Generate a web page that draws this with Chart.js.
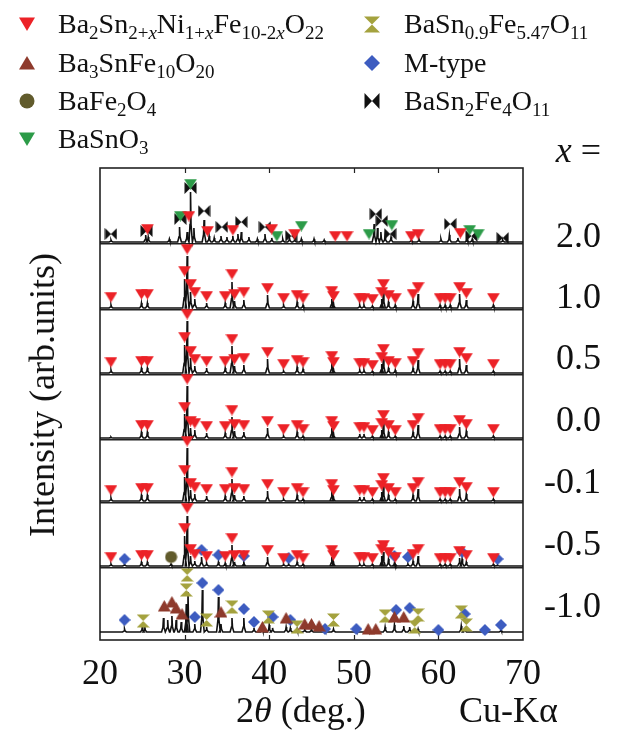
<!DOCTYPE html>
<html>
<head>
<meta charset="utf-8">
<script src="https://cdn.jsdelivr.net/npm/chart.js@4.4.1/dist/chart.umd.min.js"></script>
<style>
body { margin: 0; background: #fff; }
#wrap { position: relative; width: 617px; height: 751px; font-family: "Liberation Serif", "Times New Roman", serif; color: #111; }
#xrd { position: absolute; left: 0; top: 0; }
.lbl { position: absolute; white-space: nowrap; line-height: 1; }
.big { font-size: 36px; }
.leg { position: absolute; font-size: 28px; white-space: nowrap; line-height: 1; transform: translateY(-50%); }
.leg sub { font-size: 19px; line-height: 0; vertical-align: -6px; }
.ico { position: absolute; }
</style>
</head>
<body>
<div id="wrap">
<canvas id="xrd" width="617" height="751"></canvas>
<div class="lbl big" style="left:42px; top:395px; transform:translate(-50%,-50%) rotate(-90deg);">Intensity (arb.units)</div>
<div class="lbl big" style="left:236px; top:710px; transform:translateY(-50%);">2<i>θ</i> (deg.)</div>
<div class="lbl big" style="left:459px; top:710px; transform:translateY(-50%);">Cu-Kα</div>
<div class="lbl big" style="right:16px; top:150px; transform:translateY(-50%);"><i>x</i> =</div>
</div>
<script>
// x axis
var xTicks = [20, 30, 40, 50, 60, 70];

// panels, top to bottom
var panelLabels = ['2.0', '1.0', '0.5', '0.0', '-0.1', '-0.5', '-1.0'];
var labelY = [235, 296, 357, 419, 481, 543, 605];
var offsets = [398, 332, 267, 202, 139, 74, 8];
var separators = [72, 137, 200, 265, 330, 396];

// Ba2Sn2+xNi1+xFe10-2xO22 reflections (2theta) used in x = 1.0 ... -0.5
var mainPos = [21.3,24.9,25.6,30.0,30.3,30.7,31.2,32.6,34.8,35.6,35.9,37.0,39.8,41.7,43.3,44.0,47.4,47.6,50.7,51.2,52.2,53.3,53.5,54.1,54.9,57.0,57.6,60.2,60.8,61.4,62.5,63.3,66.5];
// peak heights
var peaks10 = [3,5,5,29,52,16,9,5,5,26,7,8,13,3,6,3,9,5,3,3,2,9,17,6,3,7,14,3,3,3,14,8,3];
var peaks05 = [3,5,5,28,52,15,7,5,5,27,7,8,14,2,6,4,10,4,3,3,2,9,17,5,3,5,13,2,2,2,14,8,2];
var peaks00 = [1,6,6,24,52,10,8,5,5,21,7,6,10,2,6,2,10,5,4,4,2,8,16,6,2,6,13,2,2,2,11,7,2];
var peaksM01 = [3,6,6,24,53,11,7,5,5,22,6,5,10,2,6,2,10,4,4,4,2,9,16,6,2,6,12,2,2,2,12,7,2];
var peaksM05 = [2,4,4,30,50,10,5,3,3,21,4,4,9,2,4,2,9,4,2,2,2,10,14,7,2,5,10,2,2,2,8,4,2];
// marker heights
var marks10 = [11,14,14,37,59,24,16,12,12,34,14,16,20,10,13,10,17,12,10,10,9,16,24,13,10,14,21,10,10,10,21,15,10];
var marks05 = [11,12,12,36,59,22,14,12,12,34,14,15,21,9,13,11,17,11,10,10,8,16,24,12,10,12,20,9,9,9,21,15,9];
var marks00 = [null,13,13,31,59,17,15,12,12,28,14,13,17,9,13,9,17,12,11,11,8,15,23,13,8,13,20,9,9,9,18,14,9];
var marksM01 = [11,13,13,31,60,18,14,12,12,29,13,12,17,9,13,9,17,11,11,11,9,16,23,13,9,13,19,9,9,9,19,14,9];
var marksM05 = [9,11,11,38,58,17,12,10,10,28,11,11,16,8,11,8,16,11,9,9,8,17,21,14,9,12,17,8,8,8,15,11,8];

// x = -0.5, other phases
var mtypeM05Peaks = [[22.9,2],[32.0,9],[34.0,4],[37.0,3],[42.3,2],[54.8,3],[56.4,2],[62.8,7],[67.0,1],[28.4,2]];
var mtypeM05Marks = [[22.9,7],[32.0,16],[34.0,11],[37.0,10],[42.3,8],[54.8,10],[56.4,9],[62.8,14],[67.0,7]];
var bafe2o4M05Marks = [[28.4,9]];

// x = 2.0
var peaks20 = [[21.3,2],[25.4,7],[25.7,5],[28.2,3],[29.4,15],[30.3,10],[30.7,50],[31.1,14],[32.3,22],[32.9,6],[33.5,4],[34.3,6],[35.0,5],[35.7,6],[36.3,8],[36.7,10],[37.6,5],[38.6,3],[39.5,8],[40.3,4],[41.6,3],[42.4,4],[43.0,3],[43.8,3],[45.3,3],[46.5,2],[52.4,18],[52.8,14],[53.2,10],[53.7,6],[54.4,5],[56.8,2],[57.7,3],[60.3,3],[61.3,7],[62.3,4],[63.4,3],[64.0,3],[67.6,2]];
var bowtie20 = [[21.3,8],[25.5,11],[29.5,23],[30.7,54],[32.3,31],[34.4,15],[36.7,20],[39.5,15],[42.6,6],[52.6,28],[53.3,21],[54.3,8],[61.4,18],[63.9,6],[67.6,4]];
var green20 = [[29.5,26],[30.7,58],[40.9,6],[43.8,16],[51.8,8],[54.5,17],[63.7,12],[64.7,8]];
var red20 = [[25.6,13],[30.5,26],[32.7,11],[35.7,12],[40.3,13],[43.0,8],[47.8,6],[49.2,6],[56.8,6],[57.6,8],[62.6,9]];

// x = -1.0
var peaksM10 = [[22.9,3],[25.0,5],[25.3,5],[27.5,14],[28.0,12],[28.5,16],[29.0,12],[29.6,10],[30.2,28],[30.4,40],[31.2,8],[32.1,42],[32.6,5],[34.0,35],[34.3,8],[35.6,14],[37.0,14],[38.2,4],[39.2,3],[40.0,7],[40.4,4],[42.0,5],[42.5,4],[43.3,3],[44.2,3],[45.0,3],[46.6,2],[47.6,3],[50.3,2],[51.7,2],[53.7,5],[54.8,7],[55.9,6],[56.6,5],[57.6,3],[60.0,2],[62.7,6],[63.1,4],[65.5,2],[67.4,2]];
var mtypeM10 = [[22.9,12],[31.2,15],[32.1,49],[34.0,42],[37.0,23],[38.2,10],[40.4,15],[42.5,12],[46.6,3],[50.3,3],[55.0,22],[56.6,24],[60.0,2],[63.1,18],[65.5,2],[67.4,7]];
var hourglassM10 = [[25.1,11],[30.3,57],[30.2,42],[32.6,12],[35.6,25],[39.9,15],[43.3,5],[47.6,12],[53.7,16],[57.2,5],[57.6,17],[62.7,20],[63.3,7]];
var brownM10 = [[27.6,26],[28.5,30],[29.0,24],[29.7,18],[34.3,20],[39.2,5],[42.0,14],[44.2,8],[45.0,8],[45.9,6],[51.7,3],[52.6,3],[54.8,15],[55.9,15]];

var colors = {
  red: '#ec2227', brown: '#8e3a2c', darkOlive: '#615b2c', green: '#2c9b48',
  olive: '#a4a23e', blue: '#3d5cc0', black: '#111111'
};

function markerImage(kind, color, w, h) {
  var c = document.createElement('canvas');
  c.width = w; c.height = h;
  var g = c.getContext('2d');
  g.fillStyle = color;
  g.beginPath();
  if (kind == 'down') { g.moveTo(0, 0.5); g.lineTo(w, 0.5); g.lineTo(w / 2, h); }
  else if (kind == 'up') { g.moveTo(w / 2, 0); g.lineTo(w, h - 0.5); g.lineTo(0, h - 0.5); }
  else if (kind == 'circle') { g.arc(w / 2, h / 2, w / 2 - 0.5, 0, 2 * Math.PI); }
  else if (kind == 'diamond') { g.moveTo(w / 2, 0); g.lineTo(w, h / 2); g.lineTo(w / 2, h); g.lineTo(0, h / 2); }
  else if (kind == 'hourglass') { g.moveTo(0, 0.5); g.lineTo(w, 0.5); g.lineTo(0, h - 0.5); g.lineTo(w, h - 0.5); }
  else if (kind == 'bowtie') { g.moveTo(0.5, 0); g.lineTo(0.5, h); g.lineTo(w - 0.5, 0); g.lineTo(w - 0.5, h); }
  g.closePath();
  g.fill();
  return c;
}

var img = {
  red: markerImage('down', colors.red, 13, 11),
  brown: markerImage('up', colors.brown, 13, 12),
  circle: markerImage('circle', colors.darkOlive, 13, 13),
  green: markerImage('down', colors.green, 13, 11),
  hourglass: markerImage('hourglass', colors.olive, 13, 14),
  diamond: markerImage('diamond', colors.blue, 12, 12),
  bowtie: markerImage('bowtie', colors.black, 13, 12)
};

function trace(peaks, base) {
  var sorted = peaks.slice().sort(function(a, b){ return a[0] - b[0]; });
  var pts = [{x: 20, y: base}];
  for (var i = 0; i < sorted.length; i++) {
    pts.push({x: sorted[i][0] - 0.22, y: base});
    pts.push({x: sorted[i][0] - 0.06, y: base + sorted[i][1] * 0.35});
    pts.push({x: sorted[i][0], y: base + sorted[i][1]});
    pts.push({x: sorted[i][0] + 0.06, y: base + sorted[i][1] * 0.35});
    pts.push({x: sorted[i][0] + 0.22, y: base});
  }
  pts.push({x: 70, y: base});
  return pts;
}

function pairs(pos, vals) {
  var out = [];
  for (var i = 0; i < pos.length; i++) {
    if (vals[i] != null) out.push([pos[i], vals[i]]);
  }
  return out;
}

function marks(list, base, image) {
  return {
    type: 'scatter',
    data: list.map(function(m){ return {x: m[0], y: base + m[1]}; }),
    pointStyle: image,
    pointRadius: 6,
    clip: false,
    order: 0
  };
}

function line(peaks, base) {
  return {
    type: 'scatter',
    showLine: true,
    data: trace(peaks, base),
    borderColor: '#111',
    borderWidth: 1.6,
    pointRadius: 0,
    order: 1
  };
}

var datasets = [];
// 2.0
datasets.push(line(peaks20, offsets[0]));
datasets.push(marks(red20, offsets[0], img.red));
datasets.push(marks(green20, offsets[0], img.green));
datasets.push(marks(bowtie20, offsets[0], img.bowtie));
// 1.0 .. -0.1
var midPeaks = [peaks10, peaks05, peaks00, peaksM01];
var midMarks = [marks10, marks05, marks00, marksM01];
for (var p = 0; p < 4; p++) {
  datasets.push(line(pairs(mainPos, midPeaks[p]), offsets[p + 1]));
  datasets.push(marks(pairs(mainPos, midMarks[p]), offsets[p + 1], img.red));
}
// -0.5
datasets.push(line(pairs(mainPos, peaksM05).concat(mtypeM05Peaks), offsets[5]));
datasets.push(marks(pairs(mainPos, marksM05), offsets[5], img.red));
datasets.push(marks(mtypeM05Marks, offsets[5], img.diamond));
datasets.push(marks(bafe2o4M05Marks, offsets[5], img.circle));
// -1.0
datasets.push(line(peaksM10, offsets[6]));
datasets.push(marks(brownM10, offsets[6], img.brown));
datasets.push(marks(hourglassM10, offsets[6], img.hourglass));
datasets.push(marks(mtypeM10, offsets[6], img.diamond));

var framePlugin = {
  id: 'frame',
  beforeDatasetsDraw: function(chart) {
    var a = chart.chartArea, ctx = chart.ctx, xs = chart.scales.x;
    ctx.save();
    ctx.strokeStyle = '#222';
    ctx.lineWidth = 1.6;
    ctx.strokeRect(a.left, a.top, a.right - a.left, a.bottom - a.top);
    ctx.beginPath();
    for (var i = 1; i < xTicks.length - 1; i++) {
      var px = Math.round(xs.getPixelForValue(xTicks[i])) + 0.5;
      ctx.moveTo(px, a.top); ctx.lineTo(px, a.top + 5);
      ctx.moveTo(px, a.bottom); ctx.lineTo(px, a.bottom - 5);
    }
    ctx.lineWidth = 1.2;
    ctx.stroke();
    ctx.restore();
  }
};

new Chart(document.getElementById('xrd'), {
  type: 'scatter',
  data: { datasets: datasets },
  options: {
    responsive: false,
    animation: false,
    events: [],
    layout: { padding: { left: 0, right: 94, top: 168, bottom: 0 } },
    plugins: { legend: { display: false }, tooltip: { enabled: false } },
    scales: {
      x: {
        type: 'linear', min: 20, max: 70,
        afterBuildTicks: function(s){ s.ticks = xTicks.map(function(v){ return {value: v}; }); },
        afterFit: function(s){ s.height = 111; },
        ticks: { font: { family: 'Liberation Serif', size: 36 }, color: '#111', padding: 5, maxRotation: 0 },
        grid: { display: false },
        border: { display: false }
      },
      y: {
        type: 'linear', min: 0, max: 472,
        afterBuildTicks: function(s){ s.ticks = separators.map(function(v){ return {value: v}; }); },
        afterFit: function(s){ s.width = 100; },
        ticks: { display: false },
        grid: { color: '#222', lineWidth: 1.5, drawTicks: false },
        border: { display: false }
      }
    }
  },
  plugins: [framePlugin]
});

// panel labels on the right
var wrap = document.getElementById('wrap');
panelLabels.forEach(function(t, i){
  var d = document.createElement('div');
  d.className = 'lbl big';
  d.style.right = '16px';
  d.style.top = labelY[i] + 'px';
  d.style.transform = 'translateY(-50%)';
  d.textContent = t;
  wrap.appendChild(d);
});

// legend
var legendNames = [
  'Ba<sub>2</sub>Sn<sub>2+<i>x</i></sub>Ni<sub>1+<i>x</i></sub>Fe<sub>10-2<i>x</i></sub>O<sub>22</sub>',
  'Ba<sub>3</sub>SnFe<sub>10</sub>O<sub>20</sub>',
  'BaFe<sub>2</sub>O<sub>4</sub>',
  'BaSnO<sub>3</sub>',
  'BaSn<sub>0.9</sub>Fe<sub>5.47</sub>O<sub>11</sub>',
  'M-type',
  'BaSn<sub>2</sub>Fe<sub>4</sub>O<sub>11</sub>'
];
var legendKinds = [['down', colors.red], ['up', colors.brown], ['circle', colors.darkOlive], ['down', colors.green],
  ['hourglass', colors.olive], ['diamond', colors.blue], ['bowtie', colors.black]];
var legendRows = [24, 63, 101, 139];
for (var k = 0; k < legendNames.length; k++) {
  var col = k < 4 ? 0 : 1;
  var row = k < 4 ? k : k - 4;
  var cy = legendRows[row];
  var mx = col == 0 ? 27 : 372;
  var tx = col == 0 ? 58 : 404;
  var kind = legendKinds[k][0];
  var ic = markerImage(kind, legendKinds[k][1], 16, kind == 'hourglass' ? 17 : (kind == 'down' || kind == 'up' ? 14 : 16));
  ic.className = 'ico';
  ic.style.left = (mx - ic.width / 2) + 'px';
  ic.style.top = (cy - ic.height / 2) + 'px';
  wrap.appendChild(ic);
  var t = document.createElement('div');
  t.className = 'leg';
  t.style.left = tx + 'px';
  t.style.top = cy + 'px';
  t.innerHTML = legendNames[k];
  wrap.appendChild(t);
}
</script>
</body>
</html>
